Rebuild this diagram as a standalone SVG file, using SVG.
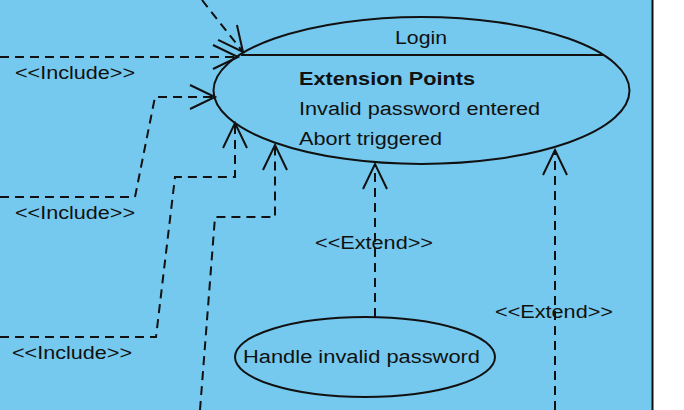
<svg xmlns="http://www.w3.org/2000/svg" width="684" height="410" viewBox="0 0 684 410">
<style>
.bg{fill:#75c8ee}
.shape{fill:none;stroke:#111;stroke-width:2}
.conn{fill:none;stroke:#111;stroke-width:2;stroke-dasharray:9 6}
.arrowhead{fill:none;stroke:#111;stroke-width:2}
text{font-family:"Liberation Sans",Arial,sans-serif;font-size:18px;fill:#111}
.bold{font-weight:bold}
</style>
<defs>
<marker id="open" markerUnits="userSpaceOnUse" viewBox="-28 -15 31 30" markerWidth="31" markerHeight="30" refX="0" refY="0" orient="auto">
<path class="arrowhead" d="M-25,-12 L0,0 L-25,12"/>
</marker>
</defs>
<rect class="bg" x="0" y="0" width="653" height="410"/>
<rect x="653" y="0" width="31" height="410" fill="#ffffff"/>
<line x1="652.5" y1="0" x2="652.5" y2="410" stroke="#111" stroke-width="2"/>

<g id="connectors">
<path class="conn" d="M202,0 L243,52" marker-end="url(#open)"/>
<path class="conn" d="M0,57 L238,57" marker-end="url(#open)"/>
<path class="conn" d="M0,197 L135,197 L155,97 L215,97" marker-end="url(#open)"/>
<path class="conn" d="M0,337 L156,337 L175,177 L235,177 L235,123" marker-end="url(#open)"/>
<path class="conn" d="M200,410 L215,217 L275,217 L275,145" marker-end="url(#open)"/>
<path class="conn" d="M375,317 L375,164" marker-end="url(#open)"/>
<path class="conn" d="M555,410 L555,150" marker-end="url(#open)"/>
<text x="15" y="79" textLength="120" lengthAdjust="spacingAndGlyphs">&lt;&lt;Include&gt;&gt;</text>
<text x="15" y="219" textLength="120" lengthAdjust="spacingAndGlyphs">&lt;&lt;Include&gt;&gt;</text>
<text x="12" y="359" textLength="120" lengthAdjust="spacingAndGlyphs">&lt;&lt;Include&gt;&gt;</text>
<text x="315" y="249" textLength="118" lengthAdjust="spacingAndGlyphs">&lt;&lt;Extend&gt;&gt;</text>
<text x="495" y="318" textLength="118" lengthAdjust="spacingAndGlyphs">&lt;&lt;Extend&gt;&gt;</text>
</g>

<g id="login">
<ellipse class="shape" cx="421.5" cy="90.5" rx="208" ry="73.5"/>
<line class="shape" x1="241" y1="55" x2="603" y2="55"/>
<text x="395" y="44" textLength="52" lengthAdjust="spacingAndGlyphs">Login</text>
<text class="bold" x="299" y="85" textLength="176" lengthAdjust="spacingAndGlyphs">Extension Points</text>
<text x="299" y="115" textLength="241" lengthAdjust="spacingAndGlyphs">Invalid password entered</text>
<text x="299" y="145" textLength="143" lengthAdjust="spacingAndGlyphs">Abort triggered</text>
</g>

<g id="handle-invalid-password">
<ellipse class="shape" cx="365" cy="357" rx="130" ry="40"/>
<text x="243" y="363" textLength="237" lengthAdjust="spacingAndGlyphs">Handle invalid password</text>
</g>
</svg>
